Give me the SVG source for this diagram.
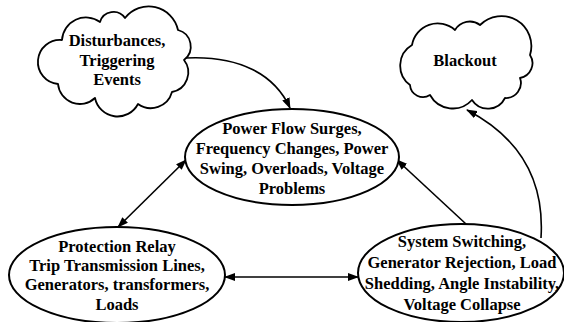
<svg xmlns="http://www.w3.org/2000/svg" width="564" height="322" viewBox="0 0 564 322">
<style>
.shape{fill:#fff;stroke:#000;stroke-width:2}
.cloud{fill:#fff;stroke:#000;stroke-width:1.8;stroke-linejoin:round}
.t{font-family:'Liberation Serif','DejaVu Serif',serif;font-weight:700;font-size:16.5px;text-anchor:middle;fill:#000}
.c{fill:none;stroke:#000;stroke-width:1.6}
</style>
<defs>
<marker id="ah" markerUnits="userSpaceOnUse" markerWidth="11" markerHeight="8" refX="10" refY="4" orient="auto-start-reverse">
<path d="M0,0 L11,4 L0,8 z" fill="#000"/>
</marker>
</defs>
<rect width="564" height="322" fill="#fff"/>
<g id="connectors">
<path class="c" d="M185,58 C240,55 275,75 290,108" marker-end="url(#ah)"/>
<line class="c" x1="118" y1="227" x2="186" y2="160" marker-start="url(#ah)" marker-end="url(#ah)"/>
<line class="c" x1="225" y1="277" x2="358" y2="277" marker-start="url(#ah)" marker-end="url(#ah)"/>
<line class="c" x1="466" y1="224" x2="397" y2="160" marker-end="url(#ah)"/>
<path class="c" d="M541,238 C545,175 515,135 467,110" marker-end="url(#ah)"/>
</g>
<g id="disturbances">
<path class="cloud" d="M58,84 A22,22 0 0 1 62,40 A24,24 0 0 1 100,22 A14,14 0 0 1 125,18 A30,30 0 0 1 178,30 A17,17 0 0 1 184,60 A20,20 0 0 1 172,92 A22,22 0 0 1 138,104 A23,23 0 0 1 95,98 A22,22 0 0 1 58,84 Z"/>
<text class="t" x="117" y="46">Disturbances,</text>
<text class="t" x="117" y="66">Triggering</text>
<text class="t" x="117" y="85">Events</text>
</g>
<g id="blackout">
<path class="cloud" d="M410,85 A24,24 0 0 1 412,45 A26,26 0 0 1 455,30 A17,17 0 0 1 480,25 A30,30 0 0 1 530,55 A15,15 0 0 1 520,78 A15,15 0 0 1 505,98 A19,19 0 0 1 472,100 A26,26 0 0 1 430,95 A13,13 0 0 1 410,85 Z"/>
<text class="t" x="465" y="66">Blackout</text>
</g>
<g id="power-flow">
<ellipse class="shape" cx="292" cy="157" rx="107" ry="48"/>
<text class="t" x="292" y="134">Power Flow Surges,</text>
<text class="t" x="292" y="154">Frequency Changes, Power</text>
<text class="t" x="292" y="174">Swing, Overloads, Voltage</text>
<text class="t" x="292" y="194">Problems</text>
</g>
<g id="protection-relay">
<ellipse class="shape" cx="117" cy="275" rx="108" ry="48"/>
<text class="t" x="117" y="252">Protection Relay</text>
<text class="t" x="117" y="271">Trip Transmission Lines,</text>
<text class="t" x="117" y="290">Generators, transformers,</text>
<text class="t" x="117" y="310">Loads</text>
</g>
<g id="system-switching">
<ellipse class="shape" cx="461" cy="273" rx="103" ry="49"/>
<text class="t" x="462" y="247">System Switching,</text>
<text class="t" x="462" y="268">Generator Rejection, Load</text>
<text class="t" x="462" y="289">Shedding, Angle Instability,</text>
<text class="t" x="462" y="310">Voltage Collapse</text>
</g>
</svg>
